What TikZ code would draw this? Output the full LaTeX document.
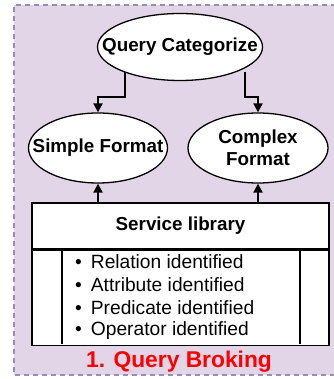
\documentclass[tikz,border=0pt]{standalone}
\usepackage{fontspec}
\setmainfont{Liberation Sans}
\usetikzlibrary{shapes.geometric,arrows.meta}
\definecolor{bgpurple}{HTML}{E1D5E7}
\definecolor{bordercol}{HTML}{9A8CB4}
\begin{document}
\begin{tikzpicture}[x=1pt,y=-1pt,
  ell/.style={ellipse,draw=black,line width=1.3pt,fill=white,inner sep=0pt},
  etext/.style={inner sep=0pt,font=\fontsize{18.8}{21.5}\selectfont\bfseries,align=center},
  conn/.style={line width=2pt,-{Triangle[length=9pt,width=9pt]}},
  bul/.style={anchor=west,inner sep=0pt,font=\fontsize{19.2}{22}\selectfont}]
\useasboundingbox (0,0) rectangle (333,379);
\fill[bgpurple] (14,5) rectangle (345,375);
\draw[bordercol,line width=1.2pt,dash pattern=on 5pt off 4pt] (345,5) -- (14,5) -- (14,375) -- (345,375);
\node[ell,minimum width=165pt,minimum height=67pt] (qc) at (180,47) {};
\node[etext] (qct) at (qc.center) {Query Categorize};
\node[ell,minimum width=139pt,minimum height=70pt] (sf) at (98,148) {};
\node[etext] (sft) at (sf.center) {Simple Format};
\node[ell,minimum width=140pt,minimum height=70pt] (cf) at (258,148) {};
\node[etext] (cft) at (cf.center) {Complex\\Format};
% service library
\node[draw=black,line width=1.3pt,fill=white,minimum width=297pt,minimum height=46pt,inner sep=0pt,font=\fontsize{18.8}{22}\selectfont\bfseries] (lib) at (180.5,226) {Service library};
\node[draw=black,line width=1.3pt,fill=white,minimum width=297pt,minimum height=95pt,inner sep=0pt,anchor=north] (body) at (lib.south) {};
\draw[line width=1.3pt] (62,249) -- (62,344);
\draw[line width=1.3pt] (300,249) -- (300,344);
\node[bul] (b1) at (75,262) {\textbullet\hspace{9pt}Relation identified};
\node[bul] (b2) at (75,285) {\textbullet\hspace{9pt}Attribute identified};
\node[bul] (b3) at (75,308) {\textbullet\hspace{9pt}Predicate identified};
\node[bul] (b4) at (75,331) {\textbullet\hspace{9pt}Operator identified};
\node[font=\fontsize{22.8}{26}\selectfont\bfseries,text=red,inner sep=0pt] (title) at (179,362) {1. Query Broking};
% connectors
\draw[conn] (125,72) -- (125,97) -- (98,97) -- (sf.north);
\draw[conn] (245,72) -- (245,97) -- (258,97) -- (cf.north);
\draw[conn] (lib.north -| sf.south) -- (sf.south);
\draw[conn] (lib.north -| cf.south) -- (cf.south);
\end{tikzpicture}
\end{document}
